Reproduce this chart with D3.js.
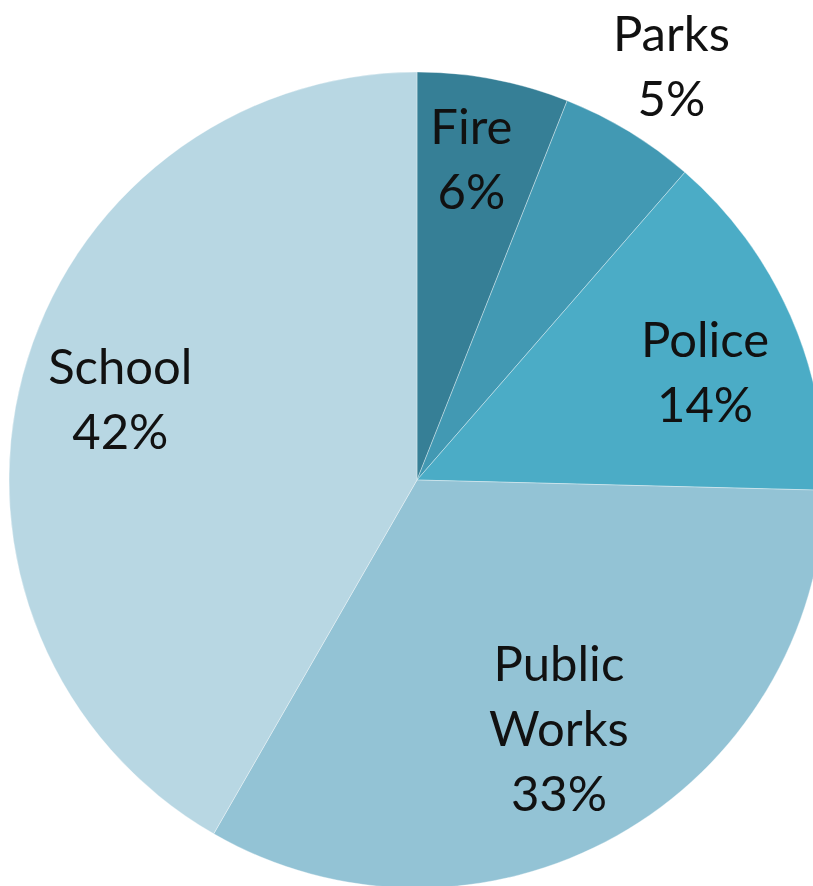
<!DOCTYPE html>
<html>
<head>
<meta charset="utf-8">
<script src="https://cdn.jsdelivr.net/npm/d3@7/dist/d3.min.js"></script>
<style>
  html, body { margin: 0; padding: 0; background: #ffffff; }
  svg { display: block; }
</style>
</head>
<body>
<script>
// ---- Data ----
const categories = ["Fire", "Parks", "Police", "Public Works", "School"];
const values = [6.0, 5.4, 14.0, 32.9, 41.7];
const labelLines = [["Fire"], ["Parks"], ["Police"], ["Public", "Works"], ["School"]];
const colors = ["#367F96", "#4299B3", "#4BACC6", "#93C3D5", "#B8D7E3"];

// ---- Layout ----
const W = 813, H = 886;
const cx = 417, cy = 480, R = 408;
const fontSize = 49, lineH = 65;
// label placement: radius fraction and nudges (layout, not data)
const labelLayout = [
  { rf: 0.75, dx: -3, dy: -20 },
  { rf: 1.19, dx: 2, dy: 1 },
  { rf: 0.75, dx: 8, dy: 16 },
  { rf: 0.72, dx: -2, dy: -7 },
  { rf: 0.74, dx: -5, dy: -3 }
];

const svg = d3.select("body").append("svg")
  .attr("width", W).attr("height", H)
  .style("background", "#ffffff");

const pie = d3.pie().sort(null).value(d => d.value);
const data = categories.map((c, i) => ({ name: c, value: values[i], lines: labelLines[i], color: colors[i], i }));
const arcs = pie(data);
const arc = d3.arc().innerRadius(0).outerRadius(R);

const g = svg.append("g").attr("transform", `translate(${cx},${cy})`);

g.selectAll("path.slice")
  .data(arcs)
  .enter().append("path")
  .attr("class", "slice")
  .attr("d", arc)
  .attr("fill", d => d.data.color)
  .attr("stroke", "rgba(255,255,255,0.35)")
  .attr("stroke-width", 1);

const total = d3.sum(values);
const labels = g.selectAll("g.lbl")
  .data(arcs)
  .enter().append("g")
  .attr("class", "lbl")
  .attr("transform", d => {
    const L = labelLayout[d.data.i];
    const a = (d.startAngle + d.endAngle) / 2;
    const r = L.rf * R;
    const x = r * Math.sin(a) + L.dx;
    const y = -r * Math.cos(a) + L.dy;
    return `translate(${x},${y})`;
  });

labels.each(function(d) {
  const lines = d.data.lines.concat([Math.round(d.data.value / total * 100) + "%"]);
  const n = lines.length;
  const t = d3.select(this).append("text")
    .attr("text-anchor", "middle")
    .attr("font-family", "Lato, 'Open Sans', sans-serif")
    .attr("font-size", fontSize)
    .attr("fill", "#111111");
  lines.forEach((ln, k) => {
    t.append("tspan")
      .attr("x", 0)
      .attr("y", (k - (n - 1) / 2) * lineH + fontSize * 0.35)
      .text(ln);
  });
});
</script>
</body>
</html>
